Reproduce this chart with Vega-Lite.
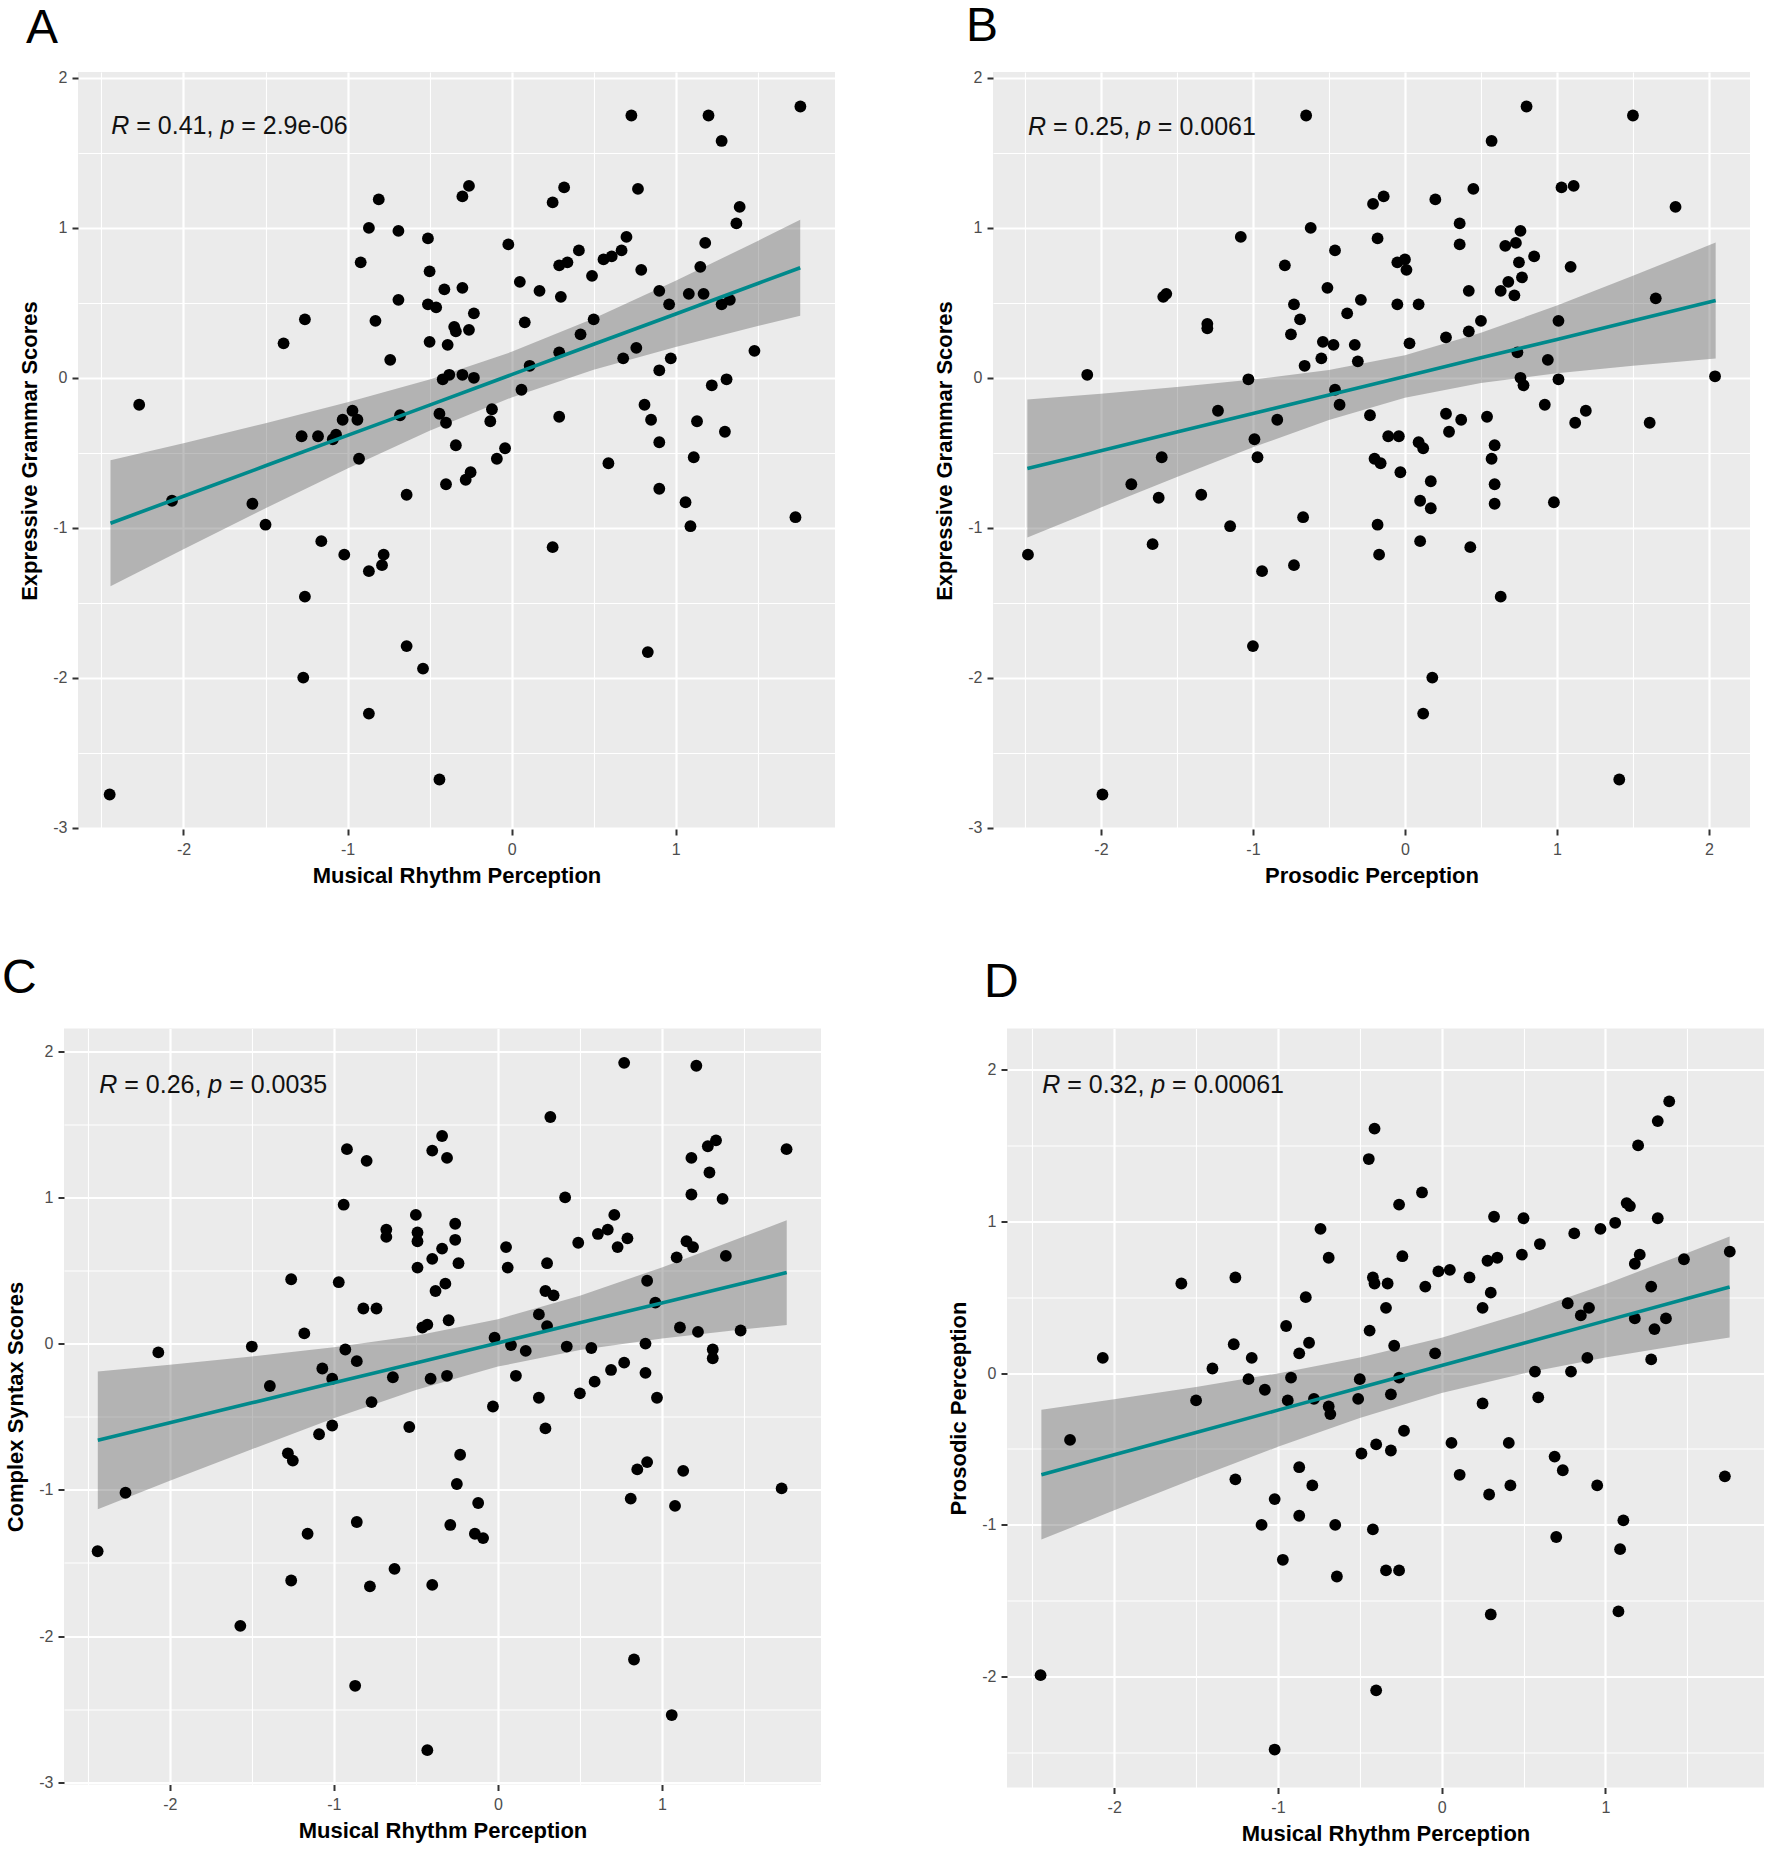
{
  "$schema": "https://vega.github.io/schema/vega-lite/v6.json",
  "padding": {"left": 0, "top": 2, "right": 2, "bottom": 2},
  "bounds": "full",
  "spacing": 68.5,
  "datasets": {
    "pA": [
      {"x":-2.27,"y":-0.18},{"x":-2.45,"y":-2.78},{"x":-2.07,"y":-0.82},{"x":-1.39,"y":0.23},{"x":-1.26,"y":0.39},{"x":-1.28,"y":-0.39},{"x":-1.18,"y":-0.39},{"x":-1.09,"y":-0.41},{"x":-1.07,"y":-0.38},{"x":-1.03,"y":-0.28},{"x":-0.97,"y":-0.22},{"x":-0.94,"y":-0.28},{"x":-0.93,"y":-0.54},{"x":-1.58,"y":-0.84},{"x":-1.5,"y":-0.98},{"x":-1.16,"y":-1.09},{"x":-1.02,"y":-1.18},{"x":-0.87,"y":-1.29},{"x":-0.78,"y":-1.18},{"x":-0.79,"y":-1.25},{"x":-1.26,"y":-1.46},{"x":-1.27,"y":-2.0},{"x":-0.64,"y":-1.79},{"x":-0.54,"y":-1.94},{"x":-0.87,"y":-2.24},{"x":-0.44,"y":-2.68},{"x":-0.81,"y":1.19},{"x":-0.87,"y":1.0},{"x":-0.69,"y":0.98},{"x":-0.51,"y":0.93},{"x":-0.92,"y":0.77},{"x":-0.5,"y":0.71},{"x":-0.41,"y":0.59},{"x":-0.69,"y":0.52},{"x":-0.83,"y":0.38},{"x":-0.51,"y":0.49},{"x":-0.46,"y":0.47},{"x":-0.35,"y":0.34},{"x":-0.34,"y":0.31},{"x":-0.5,"y":0.24},{"x":-0.39,"y":0.22},{"x":-0.74,"y":0.12},{"x":-0.42,"y":-0.01},{"x":-0.38,"y":0.02},{"x":-0.68,"y":-0.25},{"x":-0.44,"y":-0.24},{"x":-0.4,"y":-0.3},{"x":-0.34,"y":-0.45},{"x":-0.64,"y":-0.78},{"x":-0.4,"y":-0.71},
      {"x":-0.3,"y":1.21},{"x":-0.26,"y":1.28},{"x":-0.3,"y":0.6},{"x":-0.26,"y":0.32},{"x":-0.23,"y":0.43},{"x":-0.3,"y":0.02},{"x":-0.23,"y":0.0},{"x":-0.28,"y":-0.68},{"x":-0.25,"y":-0.63},{"x":-0.09,"y":-0.54},{"x":-0.04,"y":-0.47},{"x":-0.13,"y":-0.29},{"x":-0.12,"y":-0.21},{"x":0.05,"y":0.64},{"x":0.08,"y":0.37},{"x":-0.02,"y":0.89},{"x":0.17,"y":0.58},{"x":0.11,"y":0.08},{"x":0.06,"y":-0.08},{"x":0.25,"y":1.17},{"x":0.32,"y":1.27},{"x":0.29,"y":0.75},{"x":0.34,"y":0.77},{"x":0.41,"y":0.85},{"x":0.3,"y":0.54},{"x":0.49,"y":0.68},{"x":0.29,"y":0.17},{"x":0.42,"y":0.29},{"x":0.5,"y":0.39},{"x":0.29,"y":-0.26},{"x":0.59,"y":-0.57},{"x":0.25,"y":-1.13},{"x":0.56,"y":0.79},{"x":0.61,"y":0.81},{"x":0.67,"y":0.85},{"x":0.7,"y":0.94},{"x":0.73,"y":1.75},{"x":0.77,"y":1.26},{"x":0.79,"y":0.72},{"x":0.68,"y":0.13},{"x":0.76,"y":0.2},{"x":0.81,"y":-0.18},{"x":0.85,"y":-0.28},{"x":0.9,"y":-0.43},{"x":0.9,"y":-0.74},{"x":0.83,"y":-1.83},{"x":0.9,"y":0.58},{"x":0.96,"y":0.49},{"x":0.9,"y":0.05},{"x":0.97,"y":0.13},{"x":1.08,"y":0.56},{"x":1.17,"y":0.56},{"x":1.15,"y":0.74},{"x":1.18,"y":0.9},{"x":1.2,"y":1.75},{"x":1.28,"y":1.58},{"x":1.39,"y":1.14},{"x":1.37,"y":1.03},{"x":1.28,"y":0.49},{"x":1.33,"y":0.52},{"x":1.22,"y":-0.05},{"x":1.31,"y":-0.01},{"x":1.48,"y":0.18},{"x":1.13,"y":-0.29},{"x":1.3,"y":-0.36},{"x":1.11,"y":-0.53},{"x":1.06,"y":-0.83},{"x":1.09,"y":-0.99},{"x":1.76,"y":1.81},{"x":1.73,"y":-0.93}
    ],
    "pB": [
      {"x":-0.65,"y":1.75},{"x":-0.62,"y":1.0},{"x":-1.08,"y":0.94},{"x":-0.79,"y":0.75},{"x":-0.46,"y":0.85},{"x":-0.51,"y":0.6},{"x":-0.29,"y":0.52},{"x":-0.38,"y":0.43},{"x":-0.73,"y":0.49},{"x":-0.69,"y":0.39},{"x":-0.75,"y":0.29},{"x":-0.54,"y":0.24},{"x":-0.47,"y":0.22},{"x":-0.33,"y":0.22},{"x":-0.55,"y":0.13},{"x":-0.31,"y":0.11},{"x":-0.66,"y":0.08},{"x":-1.59,"y":0.54},{"x":-1.57,"y":0.56},{"x":-1.3,"y":0.36},{"x":-1.3,"y":0.33},{"x":-2.09,"y":0.02},{"x":-1.03,"y":-0.01},{"x":-0.46,"y":-0.08},{"x":-0.43,"y":-0.18},{"x":-1.23,"y":-0.22},{"x":-0.84,"y":-0.28},{"x":-0.99,"y":-0.41},{"x":-0.97,"y":-0.53},{"x":-1.6,"y":-0.53},{"x":-1.8,"y":-0.71},{"x":-1.62,"y":-0.8},{"x":-1.34,"y":-0.78},{"x":-1.15,"y":-0.99},{"x":-0.67,"y":-0.93},{"x":-1.66,"y":-1.11},{"x":-2.48,"y":-1.18},{"x":-0.94,"y":-1.29},{"x":-0.73,"y":-1.25},{"x":-1.0,"y":-1.79},{"x":-1.99,"y":-2.78},
      {"x":0.8,"y":1.81},{"x":1.5,"y":1.75},{"x":0.57,"y":1.58},{"x":1.03,"y":1.27},{"x":1.11,"y":1.28},{"x":1.78,"y":1.14},{"x":-0.21,"y":1.16},{"x":-0.14,"y":1.21},{"x":0.2,"y":1.19},{"x":0.45,"y":1.26},{"x":0.36,"y":1.03},{"x":-0.18,"y":0.93},{"x":0.36,"y":0.89},{"x":0.66,"y":0.88},{"x":0.73,"y":0.9},{"x":0.76,"y":0.98},{"x":-0.05,"y":0.77},{"x":0.0,"y":0.79},{"x":0.01,"y":0.72},{"x":0.75,"y":0.77},{"x":0.85,"y":0.81},{"x":1.09,"y":0.74},{"x":0.77,"y":0.67},{"x":0.68,"y":0.64},{"x":0.63,"y":0.58},{"x":0.72,"y":0.55},{"x":0.42,"y":0.58},{"x":-0.05,"y":0.49},{"x":0.09,"y":0.49},{"x":0.5,"y":0.38},{"x":0.42,"y":0.31},{"x":0.27,"y":0.27},{"x":0.03,"y":0.23},{"x":1.01,"y":0.38},{"x":1.65,"y":0.53},{"x":0.74,"y":0.17},{"x":0.94,"y":0.12},{"x":0.76,"y":0.0},{"x":0.78,"y":-0.05},{"x":1.01,"y":-0.01},{"x":2.04,"y":0.01},{"x":-0.23,"y":-0.25},{"x":0.92,"y":-0.18},{"x":1.19,"y":-0.22},{"x":1.12,"y":-0.3},{"x":1.61,"y":-0.3},{"x":0.27,"y":-0.24},{"x":0.29,"y":-0.36},{"x":0.37,"y":-0.28},{"x":0.54,"y":-0.26},{"x":-0.11,"y":-0.39},{"x":-0.04,"y":-0.39},{"x":0.09,"y":-0.43},{"x":0.12,"y":-0.47},{"x":0.59,"y":-0.45},{"x":0.57,"y":-0.54},{"x":-0.2,"y":-0.54},{"x":-0.16,"y":-0.57},{"x":-0.03,"y":-0.63},{"x":0.17,"y":-0.69},{"x":0.59,"y":-0.71},{"x":0.1,"y":-0.82},{"x":0.17,"y":-0.87},{"x":0.59,"y":-0.84},{"x":0.98,"y":-0.83},{"x":-0.18,"y":-0.98},{"x":-0.17,"y":-1.18},{"x":0.1,"y":-1.09},{"x":0.43,"y":-1.13},{"x":0.63,"y":-1.46},{"x":0.18,"y":-2.0},{"x":0.12,"y":-2.24},{"x":1.41,"y":-2.68}
    ],
    "pC": [
      {"x":-2.07,"y":-0.06},{"x":-1.5,"y":-0.02},{"x":-1.18,"y":0.07},{"x":-1.39,"y":-0.29},{"x":-2.44,"y":-1.42},{"x":-2.27,"y":-1.02},{"x":-1.57,"y":-1.93},{"x":-1.26,"y":0.44},{"x":-1.28,"y":-0.75},{"x":-1.25,"y":-0.8},{"x":-1.26,"y":-1.62},{"x":-1.16,"y":-1.3},{"x":-1.09,"y":-0.62},{"x":-1.07,"y":-0.17},{"x":-1.01,"y":-0.24},{"x":-1.01,"y":-0.56},{"x":-0.97,"y":0.42},{"x":-0.93,"y":-0.04},{"x":-0.86,"y":-0.12},{"x":-0.92,"y":1.33},{"x":-0.8,"y":1.25},{"x":-0.94,"y":0.95},{"x":-0.82,"y":0.24},{"x":-0.74,"y":0.24},{"x":-0.77,"y":-0.4},{"x":-0.86,"y":-1.22},{"x":-0.78,"y":-1.66},{"x":-0.63,"y":-1.54},{"x":-0.87,"y":-2.34},{"x":-0.4,"y":-1.65},{"x":-0.43,"y":-2.78},{"x":-0.68,"y":0.78},{"x":-0.68,"y":0.73},{"x":-0.5,"y":0.88},{"x":-0.49,"y":0.76},{"x":-0.49,"y":0.7},{"x":-0.49,"y":0.52},{"x":-0.4,"y":0.58},{"x":-0.46,"y":0.11},{"x":-0.43,"y":0.13},{"x":-0.64,"y":-0.23},{"x":-0.41,"y":-0.24},{"x":-0.54,"y":-0.57},
      {"x":-0.4,"y":1.32},{"x":-0.34,"y":1.42},{"x":-0.31,"y":1.27},{"x":-0.26,"y":0.82},{"x":-0.26,"y":0.71},{"x":-0.34,"y":0.65},{"x":-0.24,"y":0.55},{"x":-0.32,"y":0.41},{"x":-0.38,"y":0.36},{"x":-0.3,"y":0.16},{"x":-0.31,"y":-0.22},{"x":-0.23,"y":-0.76},{"x":-0.25,"y":-0.96},{"x":-0.12,"y":-1.09},{"x":-0.29,"y":-1.24},{"x":-0.14,"y":-1.3},{"x":-0.09,"y":-1.33},{"x":-0.03,"y":-0.43},{"x":-0.02,"y":0.04},{"x":0.05,"y":0.66},{"x":0.06,"y":0.52},{"x":0.08,"y":-0.01},{"x":0.11,"y":-0.22},{"x":0.17,"y":-0.05},{"x":0.25,"y":-0.37},{"x":0.29,"y":-0.58},{"x":0.25,"y":0.2},{"x":0.3,"y":0.12},{"x":0.3,"y":0.55},{"x":0.29,"y":0.36},{"x":0.34,"y":0.33},{"x":0.32,"y":1.55},{"x":0.41,"y":1.0},{"x":0.42,"y":-0.02},{"x":0.49,"y":0.69},{"x":0.57,"y":-0.03},{"x":0.5,"y":-0.34},{"x":0.59,"y":-0.26},{"x":0.61,"y":0.75},{"x":0.67,"y":0.78},{"x":0.71,"y":0.88},{"x":0.73,"y":0.66},{"x":0.79,"y":0.72},{"x":0.69,"y":-0.18},{"x":0.77,"y":-0.13},{"x":0.77,"y":1.92},{"x":0.91,"y":0.43},{"x":0.96,"y":0.28},{"x":0.9,"y":0.0},{"x":0.9,"y":-0.2},{"x":0.97,"y":-0.37},{"x":0.85,"y":-0.86},{"x":0.91,"y":-0.81},{"x":0.81,"y":-1.06},{"x":0.83,"y":-2.16},{"x":1.06,"y":-2.54},{"x":1.08,"y":-1.11},{"x":1.13,"y":-0.87},{"x":1.11,"y":0.11},{"x":1.22,"y":0.08},{"x":1.09,"y":0.59},{"x":1.15,"y":0.7},{"x":1.19,"y":0.66},{"x":1.18,"y":1.02},{"x":1.18,"y":1.27},{"x":1.21,"y":1.9},{"x":1.28,"y":1.35},{"x":1.33,"y":1.39},{"x":1.29,"y":1.17},{"x":1.37,"y":0.99},{"x":1.39,"y":0.6},{"x":1.31,"y":-0.04},{"x":1.31,"y":-0.1},{"x":1.48,"y":0.09},{"x":1.76,"y":1.33},{"x":1.73,"y":-0.99}
    ],
    "pD": [
      {"x":-2.45,"y":-1.99},{"x":-2.27,"y":-0.44},{"x":-2.07,"y":0.1},{"x":-1.59,"y":0.59},{"x":-1.5,"y":-0.18},{"x":-1.4,"y":0.03},{"x":-1.26,"y":0.63},{"x":-1.27,"y":0.19},{"x":-1.16,"y":0.1},{"x":-1.18,"y":-0.04},{"x":-1.08,"y":-0.11},{"x":-1.26,"y":-0.7},{"x":-1.02,"y":-0.83},{"x":-1.1,"y":-1.0},{"x":-0.97,"y":-1.23},{"x":-1.02,"y":-2.48},{"x":-0.95,"y":0.31},{"x":-0.92,"y":-0.03},{"x":-0.94,"y":-0.18},{"x":-0.87,"y":0.13},{"x":-0.81,"y":0.2},{"x":-0.83,"y":0.5},{"x":-0.74,"y":0.95},{"x":-0.69,"y":0.76},{"x":-0.78,"y":-0.17},{"x":-0.69,"y":-0.22},{"x":-0.68,"y":-0.27},{"x":-0.87,"y":-0.62},{"x":-0.79,"y":-0.74},{"x":-0.87,"y":-0.94},{"x":-0.65,"y":-1.0},{"x":-0.64,"y":-1.34},{"x":-0.49,"y":-0.53},{"x":-0.5,"y":-0.04},{"x":-0.51,"y":-0.17},{"x":-0.44,"y":0.28},{"x":-0.42,"y":0.63},{"x":-0.41,"y":0.59},{"x":-0.445,"y":1.41},{"x":-0.41,"y":1.61},{"x":-0.4,"y":-0.47},{"x":-0.42,"y":-1.03},{"x":-0.4,"y":-2.09},
      {"x":-0.26,"y":1.11},{"x":-0.12,"y":1.19},{"x":-0.24,"y":0.77},{"x":-0.33,"y":0.59},{"x":-0.34,"y":0.43},{"x":-0.29,"y":0.18},{"x":-0.26,"y":-0.03},{"x":-0.31,"y":-0.14},{"x":-0.04,"y":0.13},{"x":-0.1,"y":0.57},{"x":-0.02,"y":0.67},{"x":0.05,"y":0.68},{"x":0.17,"y":0.63},{"x":0.25,"y":0.43},{"x":0.3,"y":0.53},{"x":0.28,"y":0.74},{"x":0.34,"y":0.76},{"x":0.32,"y":1.03},{"x":0.5,"y":1.02},{"x":0.49,"y":0.78},{"x":0.6,"y":0.85},{"x":0.25,"y":-0.2},{"x":-0.23,"y":-0.38},{"x":-0.31,"y":-0.51},{"x":0.06,"y":-0.46},{"x":0.11,"y":-0.67},{"x":0.29,"y":-0.8},{"x":0.41,"y":-0.46},{"x":0.42,"y":-0.74},{"x":0.57,"y":0.01},{"x":0.59,"y":-0.16},{"x":0.69,"y":-0.55},{"x":0.74,"y":-0.64},{"x":0.7,"y":-1.08},{"x":0.79,"y":0.01},{"x":0.89,"y":0.1},{"x":0.77,"y":0.46},{"x":0.85,"y":0.38},{"x":0.9,"y":0.43},{"x":0.81,"y":0.92},{"x":0.97,"y":0.95},{"x":1.06,"y":0.99},{"x":0.95,"y":-0.74},{"x":1.11,"y":-0.97},{"x":1.09,"y":-1.16},{"x":1.08,"y":-1.57},{"x":0.3,"y":-1.59},{"x":-0.34,"y":-1.3},{"x":-0.26,"y":-1.3},{"x":1.13,"y":1.12},{"x":1.15,"y":1.1},{"x":1.2,"y":1.5},{"x":1.32,"y":1.66},{"x":1.39,"y":1.79},{"x":1.32,"y":1.02},{"x":1.18,"y":0.72},{"x":1.21,"y":0.78},{"x":1.28,"y":0.57},{"x":1.18,"y":0.36},{"x":1.3,"y":0.29},{"x":1.37,"y":0.36},{"x":1.28,"y":0.09},{"x":1.48,"y":0.75},{"x":1.76,"y":0.8},{"x":1.73,"y":-0.68}
    ],
    "fA": [
      {"x":-2.445,"fit":-0.97,"lo":-1.39,"hi":-0.55},{"x":-2,"fit":-0.79,"lo":-1.144,"hi":-0.436},{"x":-1.5,"fit":-0.587,"lo":-0.871,"hi":-0.303},{"x":-1,"fit":-0.384,"lo":-0.605,"hi":-0.163},{"x":-0.5,"fit":-0.182,"lo":-0.353,"hi":-0.011},{"x":0,"fit":0.021,"lo":-0.131,"hi":0.173},{"x":0.5,"fit":0.224,"lo":0.053,"hi":0.395},{"x":1,"fit":0.426,"lo":0.205,"hi":0.647},{"x":1.5,"fit":0.629,"lo":0.345,"hi":0.913},{"x":1.759,"fit":0.734,"lo":0.414,"hi":1.054}
    ],
    "fB": [
      {"x":-2.484,"fit":-0.605,"lo":-1.065,"hi":-0.145},{"x":-2,"fit":-0.486,"lo":-0.866,"hi":-0.106},{"x":-1.5,"fit":-0.362,"lo":-0.662,"hi":-0.062},{"x":-1,"fit":-0.238,"lo":-0.464,"hi":-0.012},{"x":-0.5,"fit":-0.115,"lo":-0.282,"hi":0.052},{"x":0,"fit":0.009,"lo":-0.133,"hi":0.151},{"x":0.5,"fit":0.133,"lo":-0.034,"hi":0.3},{"x":1,"fit":0.256,"lo":0.03,"hi":0.482},{"x":1.5,"fit":0.38,"lo":0.08,"hi":0.68},{"x":2.044,"fit":0.515,"lo":0.128,"hi":0.902}
    ],
    "fC": [
      {"x":-2.439,"fit":-0.661,"lo":-1.132,"hi":-0.19},{"x":-2,"fit":-0.541,"lo":-0.938,"hi":-0.144},{"x":-1.5,"fit":-0.405,"lo":-0.722,"hi":-0.088},{"x":-1,"fit":-0.268,"lo":-0.511,"hi":-0.025},{"x":-0.5,"fit":-0.132,"lo":-0.318,"hi":0.054},{"x":0,"fit":0.005,"lo":-0.157,"hi":0.167},{"x":0.5,"fit":0.142,"lo":-0.044,"hi":0.328},{"x":1,"fit":0.278,"lo":0.035,"hi":0.521},{"x":1.5,"fit":0.415,"lo":0.098,"hi":0.732},{"x":1.761,"fit":0.486,"lo":0.128,"hi":0.844}
    ],
    "fD": [
      {"x":-2.445,"fit":-0.669,"lo":-1.097,"hi":-0.241},{"x":-2,"fit":-0.538,"lo":-0.904,"hi":-0.172},{"x":-1.5,"fit":-0.391,"lo":-0.691,"hi":-0.091},{"x":-1,"fit":-0.244,"lo":-0.486,"hi":-0.002},{"x":-0.5,"fit":-0.097,"lo":-0.296,"hi":0.102},{"x":0,"fit":0.05,"lo":-0.132,"hi":0.232},{"x":0.5,"fit":0.197,"lo":-0.002,"hi":0.396},{"x":1,"fit":0.344,"lo":0.102,"hi":0.586},{"x":1.5,"fit":0.491,"lo":0.191,"hi":0.791},{"x":1.759,"fit":0.567,"lo":0.234,"hi":0.9}
    ],
    "tA": [{"x":-2.44,"y":1.68,"a":"R","b":"= 0.41,","c":"p","d":"= 2.9e-06"}],
    "tB": [{"x":-2.48,"y":1.67,"a":"R","b":"= 0.25,","c":"p","d":"= 0.0061"}],
    "tC": [{"x":-2.43,"y":1.77,"a":"R","b":"= 0.26,","c":"p","d":"= 0.0035"}],
    "tD": [{"x":-2.44,"y":1.9,"a":"R","b":"= 0.32,","c":"p","d":"= 0.00061"}]
  },
  "vconcat": [
    {
      "hconcat": [
        {"width": 78, "height": 1, "view": {"fill": "white", "stroke": null}, "data": {"values": [{}]}, "mark": {"type": "point", "opacity": 0, "size": 0}, "encoding": {}},
        {
          "width": 757, "height": 757,
          "view": {"fill": "#EBEBEB", "stroke": null},
          "title": {"text": "A", "offset": 16.5, "dx": -52},
          "layer": [
            {"data": {"name": "fA"}, "mark": {"type": "area", "color": "#606060", "opacity": 0.4},
             "encoding": {"x": {"field": "x", "type": "quantitative", "title": "Musical Rhythm Perception", "scale": {"domain": [-2.643, 1.971], "nice": false, "zero": false}},
                          "y": {"field": "lo", "type": "quantitative", "title": "Expressive Grammar Scores", "scale": {"domain": [-3.01, 2.04], "nice": false, "zero": false}},
                          "y2": {"field": "hi"}}},
            {"data": {"name": "pA"}, "mark": {"type": "circle", "size": 140, "color": "black", "opacity": 1},
             "encoding": {"x": {"field": "x", "type": "quantitative", "title": "Musical Rhythm Perception", "scale": {"domain": [-2.643, 1.971], "nice": false, "zero": false},
                                "axis": {"values": [-2.5,-2,-1.5,-1,-0.5,0,0.5,1,1.5], "labelExpr": "datum.value % 1 === 0 ? toString(datum.value) : ''", "tickOpacity": {"condition": {"test": "datum.value % 1 !== 0", "value": 0}, "value": 1}, "gridWidth": {"condition": {"test": "datum.value % 1 === 0", "value": 2.2}, "value": 1.1}}},
                          "y": {"field": "y", "type": "quantitative", "title": "Expressive Grammar Scores", "scale": {"domain": [-3.01, 2.04], "nice": false, "zero": false},
                                "axis": {"values": [-3,-2.5,-2,-1.5,-1,-0.5,0,0.5,1,1.5,2], "labelExpr": "datum.value % 1 === 0 ? toString(datum.value) : ''", "tickOpacity": {"condition": {"test": "datum.value % 1 !== 0", "value": 0}, "value": 1}, "gridWidth": {"condition": {"test": "datum.value % 1 === 0", "value": 2.2}, "value": 1.1}}}}},
            {"data": {"name": "fA"}, "mark": {"type": "line", "color": "#00898B", "strokeWidth": 3.6},
             "encoding": {"x": {"field": "x", "type": "quantitative", "title": "Musical Rhythm Perception", "scale": {"domain": [-2.643, 1.971], "nice": false, "zero": false}},
                          "y": {"field": "fit", "type": "quantitative", "title": "Expressive Grammar Scores", "scale": {"domain": [-3.01, 2.04], "nice": false, "zero": false}}}},
            {"data": {"name": "tA"},
             "encoding": {"x": {"field": "x", "type": "quantitative", "title": "Musical Rhythm Perception", "scale": {"domain": [-2.643, 1.971], "nice": false, "zero": false}},
                          "y": {"field": "y", "type": "quantitative", "title": "Expressive Grammar Scores", "scale": {"domain": [-3.01, 2.04], "nice": false, "zero": false}}},
             "layer": [
               {"mark": {"type": "text", "align": "left", "baseline": "middle", "fontSize": 25, "fontStyle": "italic", "color": "#111111"}, "encoding": {"text": {"field": "a"}}},
               {"mark": {"type": "text", "align": "left", "baseline": "middle", "fontSize": 25, "dx": 25.0, "color": "#111111"}, "encoding": {"text": {"field": "b"}}},
               {"mark": {"type": "text", "align": "left", "baseline": "middle", "fontSize": 25, "dx": 109.1, "fontStyle": "italic", "color": "#111111"}, "encoding": {"text": {"field": "c"}}},
               {"mark": {"type": "text", "align": "left", "baseline": "middle", "fontSize": 25, "dx": 129.9, "color": "#111111"}, "encoding": {"text": {"field": "d"}}}
             ]}
          ]
        },
        {"width": 158, "height": 1, "view": {"fill": "white", "stroke": null}, "data": {"values": [{}]}, "mark": {"type": "point", "opacity": 0, "size": 0}, "encoding": {}},
        {
          "width": 757, "height": 757,
          "view": {"fill": "#EBEBEB", "stroke": null},
          "title": {"text": "B", "offset": 19.3, "dx": -27},
          "layer": [
            {"data": {"name": "fB"}, "mark": {"type": "area", "color": "#606060", "opacity": 0.4},
             "encoding": {"x": {"field": "x", "type": "quantitative", "title": "Prosodic Perception", "scale": {"domain": [-2.71, 2.27], "nice": false, "zero": false}},
                          "y": {"field": "lo", "type": "quantitative", "title": "Expressive Grammar Scores", "scale": {"domain": [-3.01, 2.04], "nice": false, "zero": false}},
                          "y2": {"field": "hi"}}},
            {"data": {"name": "pB"}, "mark": {"type": "circle", "size": 140, "color": "black", "opacity": 1},
             "encoding": {"x": {"field": "x", "type": "quantitative", "title": "Prosodic Perception", "scale": {"domain": [-2.71, 2.27], "nice": false, "zero": false},
                                "axis": {"values": [-2.5,-2,-1.5,-1,-0.5,0,0.5,1,1.5,2], "labelExpr": "datum.value % 1 === 0 ? toString(datum.value) : ''", "tickOpacity": {"condition": {"test": "datum.value % 1 !== 0", "value": 0}, "value": 1}, "gridWidth": {"condition": {"test": "datum.value % 1 === 0", "value": 2.2}, "value": 1.1}}},
                          "y": {"field": "y", "type": "quantitative", "title": "Expressive Grammar Scores", "scale": {"domain": [-3.01, 2.04], "nice": false, "zero": false},
                                "axis": {"values": [-3,-2.5,-2,-1.5,-1,-0.5,0,0.5,1,1.5,2], "labelExpr": "datum.value % 1 === 0 ? toString(datum.value) : ''", "tickOpacity": {"condition": {"test": "datum.value % 1 !== 0", "value": 0}, "value": 1}, "gridWidth": {"condition": {"test": "datum.value % 1 === 0", "value": 2.2}, "value": 1.1}}}}},
            {"data": {"name": "fB"}, "mark": {"type": "line", "color": "#00898B", "strokeWidth": 3.6},
             "encoding": {"x": {"field": "x", "type": "quantitative", "title": "Prosodic Perception", "scale": {"domain": [-2.71, 2.27], "nice": false, "zero": false}},
                          "y": {"field": "fit", "type": "quantitative", "title": "Expressive Grammar Scores", "scale": {"domain": [-3.01, 2.04], "nice": false, "zero": false}}}},
            {"data": {"name": "tB"},
             "encoding": {"x": {"field": "x", "type": "quantitative", "title": "Prosodic Perception", "scale": {"domain": [-2.71, 2.27], "nice": false, "zero": false}},
                          "y": {"field": "y", "type": "quantitative", "title": "Expressive Grammar Scores", "scale": {"domain": [-3.01, 2.04], "nice": false, "zero": false}}},
             "layer": [
               {"mark": {"type": "text", "align": "left", "baseline": "middle", "fontSize": 25, "fontStyle": "italic", "color": "#111111"}, "encoding": {"text": {"field": "a"}}},
               {"mark": {"type": "text", "align": "left", "baseline": "middle", "fontSize": 25, "dx": 25.0, "color": "#111111"}, "encoding": {"text": {"field": "b"}}},
               {"mark": {"type": "text", "align": "left", "baseline": "middle", "fontSize": 25, "dx": 109.1, "fontStyle": "italic", "color": "#111111"}, "encoding": {"text": {"field": "c"}}},
               {"mark": {"type": "text", "align": "left", "baseline": "middle", "fontSize": 25, "dx": 129.9, "color": "#111111"}, "encoding": {"text": {"field": "d"}}}
             ]}
          ]
        }
      ],
      "spacing": 0,
      "bounds": "flush"
    },
    {
      "hconcat": [
        {"width": 64, "height": 1, "view": {"fill": "white", "stroke": null}, "data": {"values": [{}]}, "mark": {"type": "point", "opacity": 0, "size": 0}, "encoding": {}},
        {
          "width": 757, "height": 756,
          "view": {"fill": "#EBEBEB", "stroke": null},
          "title": {"text": "C", "offset": 25.6, "dx": -62},
          "layer": [
            {"data": {"name": "fC"}, "mark": {"type": "area", "color": "#606060", "opacity": 0.4},
             "encoding": {"x": {"field": "x", "type": "quantitative", "title": "Musical Rhythm Perception", "scale": {"domain": [-2.645, 1.97], "nice": false, "zero": false}},
                          "y": {"field": "lo", "type": "quantitative", "title": "Complex Syntax Scores", "scale": {"domain": [-3.015, 2.155], "nice": false, "zero": false}},
                          "y2": {"field": "hi"}}},
            {"data": {"name": "pC"}, "mark": {"type": "circle", "size": 140, "color": "black", "opacity": 1},
             "encoding": {"x": {"field": "x", "type": "quantitative", "title": "Musical Rhythm Perception", "scale": {"domain": [-2.645, 1.97], "nice": false, "zero": false},
                                "axis": {"values": [-2.5,-2,-1.5,-1,-0.5,0,0.5,1,1.5], "labelExpr": "datum.value % 1 === 0 ? toString(datum.value) : ''", "tickOpacity": {"condition": {"test": "datum.value % 1 !== 0", "value": 0}, "value": 1}, "gridWidth": {"condition": {"test": "datum.value % 1 === 0", "value": 2.2}, "value": 1.1}}},
                          "y": {"field": "y", "type": "quantitative", "title": "Complex Syntax Scores", "scale": {"domain": [-3.015, 2.155], "nice": false, "zero": false},
                                "axis": {"values": [-3,-2.5,-2,-1.5,-1,-0.5,0,0.5,1,1.5,2], "labelExpr": "datum.value % 1 === 0 ? toString(datum.value) : ''", "tickOpacity": {"condition": {"test": "datum.value % 1 !== 0", "value": 0}, "value": 1}, "gridWidth": {"condition": {"test": "datum.value % 1 === 0", "value": 2.2}, "value": 1.1}}}}},
            {"data": {"name": "fC"}, "mark": {"type": "line", "color": "#00898B", "strokeWidth": 3.6},
             "encoding": {"x": {"field": "x", "type": "quantitative", "title": "Musical Rhythm Perception", "scale": {"domain": [-2.645, 1.97], "nice": false, "zero": false}},
                          "y": {"field": "fit", "type": "quantitative", "title": "Complex Syntax Scores", "scale": {"domain": [-3.015, 2.155], "nice": false, "zero": false}}}},
            {"data": {"name": "tC"},
             "encoding": {"x": {"field": "x", "type": "quantitative", "title": "Musical Rhythm Perception", "scale": {"domain": [-2.645, 1.97], "nice": false, "zero": false}},
                          "y": {"field": "y", "type": "quantitative", "title": "Complex Syntax Scores", "scale": {"domain": [-3.015, 2.155], "nice": false, "zero": false}}},
             "layer": [
               {"mark": {"type": "text", "align": "left", "baseline": "middle", "fontSize": 25, "fontStyle": "italic", "color": "#111111"}, "encoding": {"text": {"field": "a"}}},
               {"mark": {"type": "text", "align": "left", "baseline": "middle", "fontSize": 25, "dx": 25.0, "color": "#111111"}, "encoding": {"text": {"field": "b"}}},
               {"mark": {"type": "text", "align": "left", "baseline": "middle", "fontSize": 25, "dx": 109.1, "fontStyle": "italic", "color": "#111111"}, "encoding": {"text": {"field": "c"}}},
               {"mark": {"type": "text", "align": "left", "baseline": "middle", "fontSize": 25, "dx": 129.9, "color": "#111111"}, "encoding": {"text": {"field": "d"}}}
             ]}
          ]
        },
        {"width": 186, "height": 1, "view": {"fill": "white", "stroke": null}, "data": {"values": [{}]}, "mark": {"type": "point", "opacity": 0, "size": 0}, "encoding": {}},
        {
          "width": 757, "height": 759,
          "view": {"fill": "#EBEBEB", "stroke": null},
          "title": {"text": "D", "offset": 21.2, "dx": -23},
          "layer": [
            {"data": {"name": "fD"}, "mark": {"type": "area", "color": "#606060", "opacity": 0.4},
             "encoding": {"x": {"field": "x", "type": "quantitative", "title": "Musical Rhythm Perception", "scale": {"domain": [-2.655, 1.969], "nice": false, "zero": false}},
                          "y": {"field": "lo", "type": "quantitative", "title": "Prosodic Perception", "scale": {"domain": [-2.73, 2.27], "nice": false, "zero": false}},
                          "y2": {"field": "hi"}}},
            {"data": {"name": "pD"}, "mark": {"type": "circle", "size": 140, "color": "black", "opacity": 1},
             "encoding": {"x": {"field": "x", "type": "quantitative", "title": "Musical Rhythm Perception", "scale": {"domain": [-2.655, 1.969], "nice": false, "zero": false},
                                "axis": {"values": [-2.5,-2,-1.5,-1,-0.5,0,0.5,1,1.5], "labelExpr": "datum.value % 1 === 0 ? toString(datum.value) : ''", "tickOpacity": {"condition": {"test": "datum.value % 1 !== 0", "value": 0}, "value": 1}, "gridWidth": {"condition": {"test": "datum.value % 1 === 0", "value": 2.2}, "value": 1.1}}},
                          "y": {"field": "y", "type": "quantitative", "title": "Prosodic Perception", "scale": {"domain": [-2.73, 2.27], "nice": false, "zero": false},
                                "axis": {"values": [-2.5,-2,-1.5,-1,-0.5,0,0.5,1,1.5,2], "labelExpr": "datum.value % 1 === 0 ? toString(datum.value) : ''", "tickOpacity": {"condition": {"test": "datum.value % 1 !== 0", "value": 0}, "value": 1}, "gridWidth": {"condition": {"test": "datum.value % 1 === 0", "value": 2.2}, "value": 1.1}}}}},
            {"data": {"name": "fD"}, "mark": {"type": "line", "color": "#00898B", "strokeWidth": 3.6},
             "encoding": {"x": {"field": "x", "type": "quantitative", "title": "Musical Rhythm Perception", "scale": {"domain": [-2.655, 1.969], "nice": false, "zero": false}},
                          "y": {"field": "fit", "type": "quantitative", "title": "Prosodic Perception", "scale": {"domain": [-2.73, 2.27], "nice": false, "zero": false}}}},
            {"data": {"name": "tD"},
             "encoding": {"x": {"field": "x", "type": "quantitative", "title": "Musical Rhythm Perception", "scale": {"domain": [-2.655, 1.969], "nice": false, "zero": false}},
                          "y": {"field": "y", "type": "quantitative", "title": "Prosodic Perception", "scale": {"domain": [-2.73, 2.27], "nice": false, "zero": false}}},
             "layer": [
               {"mark": {"type": "text", "align": "left", "baseline": "middle", "fontSize": 25, "fontStyle": "italic", "color": "#111111"}, "encoding": {"text": {"field": "a"}}},
               {"mark": {"type": "text", "align": "left", "baseline": "middle", "fontSize": 25, "dx": 25.0, "color": "#111111"}, "encoding": {"text": {"field": "b"}}},
               {"mark": {"type": "text", "align": "left", "baseline": "middle", "fontSize": 25, "dx": 109.1, "fontStyle": "italic", "color": "#111111"}, "encoding": {"text": {"field": "c"}}},
               {"mark": {"type": "text", "align": "left", "baseline": "middle", "fontSize": 25, "dx": 129.9, "color": "#111111"}, "encoding": {"text": {"field": "d"}}}
             ]}
          ]
        }
      ],
      "spacing": 0,
      "bounds": "flush"
    }
  ],
  "config": {
    "font": "Liberation Sans",
    "background": "white",
    "view": {"stroke": null},
    "axis": {"grid": true, "gridColor": "white", "domain": false, "tickColor": "#333333", "tickWidth": 2, "tickSize": 6,
             "labelFont": "Liberation Sans", "labelFontSize": 16, "labelColor": "#4D4D4D", "labelPadding": 5,
             "titleFont": "Liberation Sans", "titleFontSize": 22, "titleFontWeight": "bold", "titleColor": "black",
             "labelOverlap": false, "labelFlush": false},
    "axisX": {"labelPadding": 6, "titlePadding": 8},
    "axisY": {"titlePadding": 11},
    "title": {"font": "Liberation Sans", "fontSize": 48, "fontWeight": "normal", "color": "black", "anchor": "start", "frame": "group"}
  }
}
